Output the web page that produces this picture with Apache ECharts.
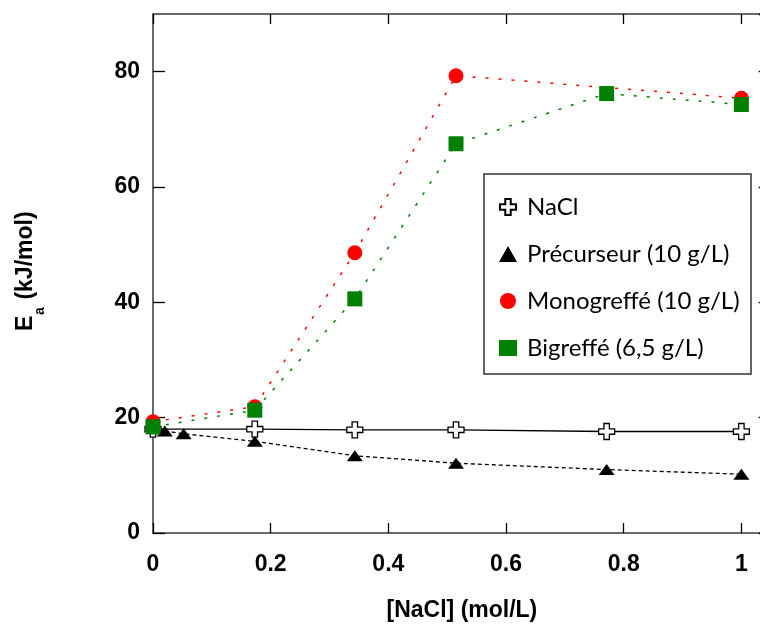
<!DOCTYPE html>
<html>
<head>
<meta charset="utf-8">
<script src="https://cdn.jsdelivr.net/npm/echarts@6/dist/echarts.min.js"></script>
<style>html,body{margin:0;padding:0;background:#fff}#c{width:760px;height:626px}</style>
</head>
<body>
<div id="c"></div>
<script>
// ---- data ----
const xTicks = [0, 0.2, 0.4, 0.6, 0.8, 1];
const yTicks = [0, 20, 40, 60, 80];
const seriesNames = ['NaCl', 'Précurseur (10 g/L)', 'Monogreffé (10 g/L)', 'Bigreffé (6,5 g/L)'];
const naclX = [0, 0.173, 0.343, 0.515, 0.771, 1.0];
const naclY = [18.0, 18.0, 17.9, 17.9, 17.6, 17.6];
const precX = [0.02, 0.052, 0.173, 0.343, 0.515, 0.771, 1.0];
const precY = [17.7, 17.2, 15.9, 13.4, 12.1, 11.0, 10.2];
const monoX = [0, 0.173, 0.343, 0.515, 1.0];
const monoY = [19.3, 21.9, 48.6, 79.3, 75.4];
const biX = [0, 0.173, 0.343, 0.515, 0.771, 1.0];
const biY = [18.4, 21.3, 40.6, 67.5, 76.2, 74.3];

const pair = (xs, ys) => xs.map((x, i) => [x, ys[i]]);
const crossPath = 'path://M3.3,0 H6.7 V3.3 H10 V6.7 H6.7 V10 H3.3 V6.7 H0 V3.3 H3.3 Z';
const FONT = '"Liberation Sans", Arial, sans-serif';

const chart = echarts.init(document.getElementById('c'), null, {renderer: 'canvas'});
const axisLine = {show: true, onZero: false, lineStyle: {color: '#6a6a6a', width: 2}};
const fmtX = v => {
  const r = Math.round(v * 10) / 10;
  return (xTicks.indexOf(r) >= 0 && Math.abs(v - r) < 1e-9) ? String(r) : '';
};
const nameStyle = (txt, size) => ({text: txt, fontFamily: FONT, fontWeight: 'bold', fontSize: size, fill: '#000', verticalAlign: 'middle', align: 'left'});

chart.setOption({
  animation: false,
  backgroundColor: '#fff',
  grid: {left: 153, top: 14, width: 617.8, height: 519, outerBoundsMode: 'none', containLabel: false},
  xAxis: [{
    type: 'value', min: 0, max: 1.05, interval: 0.2, position: 'bottom',
    axisLine: axisLine,
    axisTick: {show: true, inside: true, length: 10, lineStyle: {color: '#000', width: 1.3}},
    splitLine: {show: false},
    axisLabel: {margin: 20, fontFamily: FONT, fontWeight: 'bold', fontSize: 23, color: '#000', showMaxLabel: false, formatter: fmtX},
    name: '[NaCl] (mol/L)', nameLocation: 'middle', nameGap: 66,
    nameTextStyle: {fontFamily: FONT, fontWeight: 'bold', fontSize: 23, color: '#000'}
  }, {
    type: 'value', min: 0, max: 1.05, interval: 0.2, position: 'top',
    axisLine: axisLine,
    axisTick: {show: true, inside: true, length: 10, lineStyle: {color: '#000', width: 1.3}},
    splitLine: {show: false}, axisLabel: {show: false}
  }],
  yAxis: [{
    type: 'value', min: 0, max: 90, interval: 20, position: 'left',
    axisLine: axisLine,
    axisTick: {show: true, inside: true, length: 12, lineStyle: {color: '#000', width: 1.3}},
    splitLine: {show: false},
    axisLabel: {margin: 13, fontFamily: FONT, fontWeight: 'bold', fontSize: 23, color: '#000', showMaxLabel: false,
      formatter: v => yTicks.indexOf(v) >= 0 ? String(v) : ''}
  }, {
    type: 'value', min: 0, max: 90, interval: 20, position: 'right',
    axisLine: axisLine,
    axisTick: {show: true, inside: true, length: 12, lineStyle: {color: '#000', width: 1.3}},
    splitLine: {show: false}, axisLabel: {show: false}
  }],
  graphic: [{
    type: 'rect', shape: {x: 484, y: 174, width: 267, height: 200}, z: 90,
    style: {fill: '#fff', stroke: '#333', lineWidth: 1.5}
  }, {
    type: 'group', x: 26, y: 331, rotation: Math.PI / 2,
    children: [
      {type: 'text', x: 0, y: 0, style: nameStyle('E', 23)},
      {type: 'text', x: 16, y: 14, style: nameStyle('a', 14)},
      {type: 'text', x: 25, y: 0, style: nameStyle(' (kJ/mol)', 23)}
    ]
  }],
  legend: {
    orient: 'vertical', left: 499, top: 195, padding: 0, itemGap: 23, z: 100,
    itemWidth: 18, itemHeight: 16,
    textStyle: {fontFamily: 'Lato, "Open Sans", sans-serif', fontSize: 24, color: '#000', lineHeight: 20, padding: [0, 0, 0, 5]},
    data: [
      {name: seriesNames[0], icon: crossPath},
      {name: seriesNames[1], icon: 'triangle'},
      {name: seriesNames[2], icon: 'circle'},
      {name: seriesNames[3], icon: 'rect'}
    ]
  },
  series: [{
    name: seriesNames[0], type: 'line', data: pair(naclX, naclY), z: 3,
    symbol: crossPath, symbolSize: 16,
    itemStyle: {color: '#fff', borderColor: '#000', borderWidth: 1.3},
    lineStyle: {color: '#000', width: 1.3, type: 'solid'}
  }, {
    name: seriesNames[1], type: 'line', data: pair(precX, precY), z: 4,
    symbol: 'triangle', symbolSize: [16, 11],
    itemStyle: {color: '#000'},
    lineStyle: {color: '#000', width: 1.3, type: [4, 3]}
  }, {
    name: seriesNames[2], type: 'line', data: pair(monoX, monoY), z: 5,
    symbol: 'circle', symbolSize: 15,
    itemStyle: {color: '#ff0000'},
    lineStyle: {color: '#ff0000', width: 1.5, type: [3, 10]}
  }, {
    name: seriesNames[3], type: 'line', data: pair(biX, biY), z: 6,
    symbol: 'rect', symbolSize: 15,
    itemStyle: {color: '#008000'},
    lineStyle: {color: '#008000', width: 1.5, type: [3, 10]}
  }]
});
</script>
</body>
</html>
